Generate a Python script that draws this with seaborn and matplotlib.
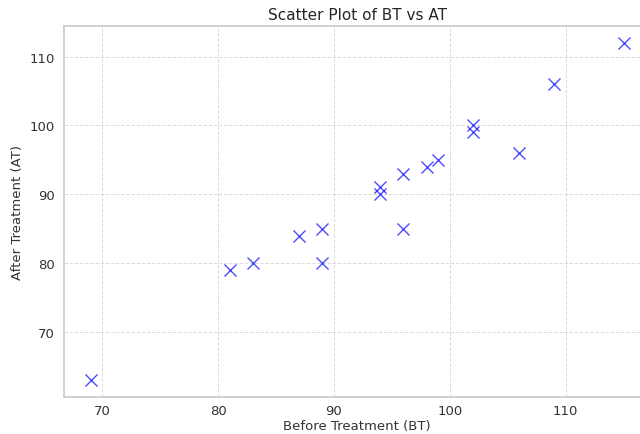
import matplotlib
matplotlib.use("Agg")
import matplotlib.pyplot as plt
import seaborn as sns
import pandas as pd

bt = [69, 81, 83, 87, 89, 89, 94, 94, 96, 96, 98, 99, 102, 102, 106, 109, 115]
at = [63, 79, 80, 84, 85, 80, 91, 90, 93, 85, 94, 95, 100, 99, 96, 106, 112]

df = pd.DataFrame({"BT": bt, "AT": at})

sns.set_theme(style="whitegrid")
plt.rcParams["font.family"] = ["DejaVu Sans"]

fig = plt.figure(figsize=(6.4, 4.35), dpi=100)
ax = fig.add_axes([0.1, 0.085, 0.916, 0.853])
sns.scatterplot(data=df, x="BT", y="AT", marker="x", s=75, color="blue",
                alpha=0.7, linewidth=1, ax=ax)
ax.grid(True, linestyle="--", linewidth=0.7, alpha=0.7)
ax.set_title("Scatter Plot of BT vs AT", fontsize=11, pad=5)
ax.set_xlabel("Before Treatment (BT)", fontsize=9.5, color="#333333", labelpad=1.5)
ax.set_ylabel("After Treatment (AT)", fontsize=9.5, color="#333333", labelpad=4)
ax.tick_params(axis="x", labelsize=9.5, length=0, pad=5, labelcolor="#333333")
ax.tick_params(axis="y", labelsize=9.5, length=0, pad=6.5, labelcolor="#333333")
fig.savefig("out.png", dpi=100)
